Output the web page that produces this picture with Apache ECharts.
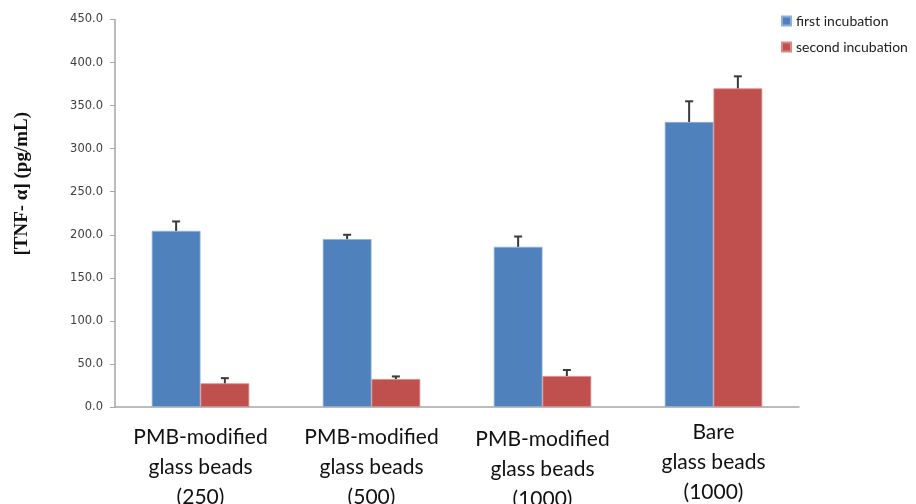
<!DOCTYPE html>
<html>
<head>
<meta charset="utf-8">
<style>
  html, body { margin: 0; padding: 0; background: #fff; }
  #chart { width: 916px; height: 504px; }
</style>
<script src="https://cdn.jsdelivr.net/npm/echarts@6/dist/echarts.min.js"></script>
</head>
<body>
<div id="chart"></div>
<script>
// TNF-α release after two incubations with different glass bead preparations
const categories = [
  'PMB-modified\nglass beads\n(250)',
  'PMB-modified\nglass beads\n(500)',
  'PMB-modified\nglass beads\n(1000)',
  'Bare\nglass beads\n(1000)'
];
const seriesNames = ['first incubation', 'second incubation'];
const firstIncubation = [204.5, 195.0, 186.0, 331.0];
const secondIncubation = [27.5, 32.5, 36.0, 370.0];
const firstError = [11, 5, 12, 24];
const secondError = [6, 3, 7, 14];
const yTicks = { min: 0, max: 450, step: 50 };
const yTitle = '[TNF- α] (pg/mL)';

const colors = ['#4F81BD', '#C0504D'];
const categoryGap = 0.43;
// small per-label vertical nudges of the category text blocks
const labelPadTop = [5, 5, 7, 0];

// Upward-only error bars, positioned on the left or right bar of each group
function errorSeries(values, errors, side) {
  return {
    type: 'custom',
    silent: true,
    z: 5,
    data: values.map((v, i) => [i, v, v + errors[i]]),
    renderItem: function (params, api) {
      const idx = api.value(0);
      const bandW = api.size([1, 0])[0];
      const barW = bandW * (1 - categoryGap) / 2;
      const base = api.coord([idx, api.value(1)]);
      const top = api.coord([idx, api.value(2)]);
      const x = base[0] + side * barW / 2;
      const cap = 4;
      const style = { stroke: '#3a3a3a', lineWidth: 2 };
      return {
        type: 'group',
        children: [
          { type: 'line', shape: { x1: x, y1: base[1], x2: x, y2: top[1] }, style: style },
          { type: 'line', shape: { x1: x - cap, y1: top[1], x2: x + cap, y2: top[1] }, style: style }
        ]
      };
    }
  };
}

const chart = echarts.init(document.getElementById('chart'));
chart.setOption({
  animation: false,
  backgroundColor: '#ffffff',
  grid: { left: 115, right: 117, top: 19.5, bottom: 97, outerBoundsMode: 'none', containLabel: false },
  graphic: [{
    type: 'text',
    left: 13,
    top: 187 - 75,
    rotation: Math.PI / 2,
    style: {
      text: yTitle,
      font: 'bold 19px "Liberation Serif"',
      fill: '#111'
    }
  }],
  legend: {
    orient: 'vertical',
    left: 776,
    top: 9,
    itemWidth: 9,
    itemHeight: 9,
    itemGap: 12,
    icon: 'rect',
    data: seriesNames,
    textStyle: { fontFamily: 'Lato', fontSize: 14, color: '#222' }
  },
  xAxis: {
    type: 'category',
    data: categories.map((c, i) => ({ value: c, textStyle: { padding: [labelPadTop[i], 0, 0, 0] } })),
    axisLine: { lineStyle: { color: '#a6a6a6', width: 1.5 } },
    axisTick: { show: false },
    axisLabel: {
      interval: 0,
      margin: 10,
      fontFamily: 'Lato',
      fontSize: 21,
      lineHeight: 30,
      color: '#111'
    }
  },
  yAxis: {
    type: 'value',
    min: yTicks.min,
    max: yTicks.max,
    interval: yTicks.step,
    axisLine: { show: true, lineStyle: { color: '#a6a6a6', width: 1.5 } },
    axisTick: { show: true, length: 5, lineStyle: { color: '#a6a6a6' } },
    splitLine: { show: false },
    axisLabel: {
      margin: 12,
      fontFamily: 'DejaVu Sans',
      fontSize: 11.5,
      color: '#404040',
      formatter: v => v.toFixed(1)
    }
  },
  series: [
    {
      name: seriesNames[0],
      type: 'bar',
      data: firstIncubation,
      barGap: '0%',
      barCategoryGap: (categoryGap * 100) + '%',
      itemStyle: { color: colors[0], borderColor: '#8fb0d8', borderWidth: 0.8 }
    },
    {
      name: seriesNames[1],
      type: 'bar',
      data: secondIncubation,
      barGap: '0%',
      barCategoryGap: (categoryGap * 100) + '%',
      itemStyle: { color: colors[1], borderColor: '#d98a88', borderWidth: 0.8 }
    },
    errorSeries(firstIncubation, firstError, -1),
    errorSeries(secondIncubation, secondError, 1)
  ]
});
</script>
</body>
</html>
